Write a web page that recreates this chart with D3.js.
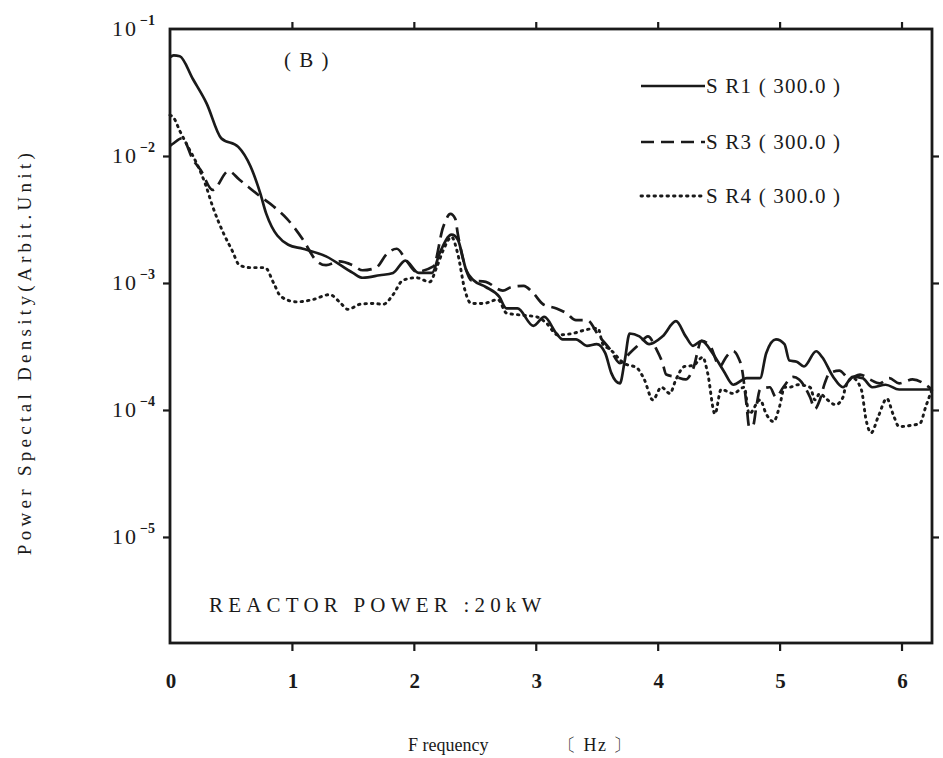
<!DOCTYPE html>
<html>
<head>
<meta charset="utf-8">
<script src="https://cdn.jsdelivr.net/npm/d3@7"></script>
<style>
  html, body { margin: 0; padding: 0; background: #fff; }
  svg { display: block; }
</style>
</head>
<body>
<svg id="chart" width="943" height="758"></svg>
<script>
// Power spectral density of three detectors, reactor power 20 kW
const sr1Freq = [0.00,0.03,0.08,0.19,0.30,0.42,0.56,0.66,0.74,0.79,0.97,1.09,1.28,1.50,1.58,1.72,1.83,1.93,2.04,2.15,2.21,2.31,2.36,2.43,2.49,2.59,2.70,2.76,2.85,2.98,3.07,3.17,3.22,3.33,3.42,3.50,3.57,3.62,3.69,3.73,3.77,3.85,3.93,4.04,4.15,4.23,4.29,4.36,4.45,4.54,4.62,4.73,4.84,4.89,4.97,5.04,5.08,5.14,5.20,5.30,5.35,5.44,5.52,5.60,5.68,5.76,5.87,5.98,6.09,6.25];
const sr1Psd  = [0.060,0.062,0.061,0.040,0.026,0.0138,0.0118,0.0083,0.0051,0.0035,0.0020,0.00186,0.00162,0.0012,0.0011,0.00115,0.0012,0.0015,0.0012,0.0012,0.0017,0.0024,0.0022,0.00126,0.00105,0.00093,0.00078,0.00063,0.00063,0.00046,0.00054,0.00040,0.00036,0.00036,0.00032,0.00033,0.00028,0.000195,0.000162,0.000245,0.00040,0.00038,0.00033,0.00038,0.00050,0.00038,0.00032,0.00035,0.00028,0.000204,0.000158,0.000178,0.000178,0.00028,0.00036,0.00033,0.000245,0.00024,0.00022,0.00029,0.00026,0.000182,0.000151,0.000182,0.000178,0.000151,0.000158,0.000145,0.000145,0.000145];

const sr3Freq = [0.00,0.03,0.10,0.19,0.25,0.35,0.48,0.57,0.74,0.85,0.96,1.09,1.20,1.28,1.39,1.50,1.58,1.69,1.78,1.86,1.94,2.02,2.16,2.24,2.30,2.34,2.36,2.42,2.47,2.59,2.73,2.80,2.90,2.98,3.06,3.17,3.25,3.33,3.42,3.52,3.61,3.69,3.77,3.85,3.92,3.99,4.04,4.07,4.15,4.23,4.29,4.36,4.43,4.51,4.56,4.62,4.66,4.69,4.73,4.75,4.78,4.81,4.84,4.92,4.97,5.03,5.11,5.16,5.25,5.29,5.33,5.37,5.41,5.49,5.57,5.66,5.74,5.82,5.90,5.98,6.09,6.25];
const sr3Psd  = [0.012,0.0126,0.0138,0.0093,0.0078,0.0054,0.0076,0.0065,0.0048,0.0040,0.0032,0.0022,0.0015,0.00138,0.00148,0.00138,0.00126,0.00132,0.0017,0.00186,0.0015,0.00123,0.00135,0.00275,0.0035,0.0032,0.00245,0.00135,0.00105,0.00102,0.00087,0.00093,0.00095,0.00083,0.00068,0.00063,0.00058,0.00051,0.00051,0.00038,0.00030,0.000234,0.00028,0.00033,0.00038,0.00030,0.000234,0.00019,0.000182,0.000174,0.00021,0.00035,0.00032,0.00022,0.00026,0.00029,0.00026,0.000214,0.000107,0.000074,0.000074,0.000107,0.000145,0.000151,0.000126,0.000151,0.000182,0.000174,0.000126,0.000102,0.00012,0.000162,0.000195,0.000204,0.000178,0.00019,0.000174,0.000162,0.000178,0.000162,0.000174,0.000145];

const sr4Freq = [0.00,0.03,0.08,0.15,0.22,0.29,0.35,0.44,0.51,0.57,0.66,0.78,0.85,0.91,1.04,1.17,1.31,1.39,1.46,1.56,1.67,1.75,1.83,1.91,2.02,2.13,2.19,2.24,2.31,2.36,2.42,2.47,2.57,2.69,2.76,2.87,3.01,3.09,3.18,3.30,3.42,3.51,3.55,3.61,3.72,3.83,3.89,3.96,4.03,4.10,4.15,4.22,4.29,4.37,4.41,4.47,4.52,4.62,4.71,4.75,4.84,4.89,4.95,5.00,5.04,5.08,5.15,5.25,5.29,5.33,5.38,5.46,5.52,5.54,5.60,5.67,5.71,5.75,5.81,5.88,5.93,5.98,6.09,6.15,6.20,6.25];
const sr4Psd  = [0.021,0.020,0.0158,0.0117,0.0087,0.0060,0.0040,0.00245,0.0018,0.00138,0.00132,0.00132,0.0010,0.00078,0.00071,0.00074,0.00081,0.00071,0.00062,0.00068,0.00069,0.00068,0.00081,0.00105,0.0011,0.00102,0.00135,0.0018,0.0023,0.0017,0.00087,0.00069,0.00069,0.00074,0.00058,0.00056,0.00054,0.00048,0.00039,0.00040,0.00043,0.00044,0.00033,0.00030,0.000234,0.000214,0.000174,0.00012,0.000151,0.000135,0.000174,0.00022,0.000224,0.00026,0.000195,0.000093,0.000145,0.000135,0.000151,0.000093,0.00012,0.000093,0.000081,0.000107,0.000151,0.000151,0.000158,0.000151,0.00012,0.000135,0.000123,0.00011,0.000126,0.000151,0.000178,0.000145,0.000083,0.000066,0.000089,0.000123,0.000093,0.000074,0.000076,0.000078,0.000107,0.000145];

const seriesNames = ["S R1 ( 300.0 )", "S R3 ( 300.0 )", "S R4 ( 300.0 )"];
const xTicks = [0, 1, 2, 3, 4, 5, 6];
const yTickExps = [-1, -2, -3, -4, -5];

const svg = d3.select("#chart");
const plotLeft = 170, plotRight = 932, plotTop = 29, plotBottom = 643;

const x = d3.scaleLinear().domain([0, 6.25]).range([plotLeft, plotRight]);
const y = d3.scaleLog().domain([Math.pow(10, -5.835), 0.1]).range([plotBottom, plotTop]);

const serif = "'Liberation Serif', 'DejaVu Serif', serif";
const ink = "#1a1a1a";

// axes: ticks drawn outward on all four sides
const axisStyle = g => {
  g.select(".domain").remove();
  g.selectAll(".tick line").attr("stroke", ink).attr("stroke-width", 2.2);
  g.selectAll(".tick text").remove();
};
const yTickVals = yTickExps.map(e => Math.pow(10, e));

svg.append("g").attr("transform", `translate(0,${plotBottom})`)
  .call(d3.axisBottom(x).tickValues(xTicks.filter(v => v > 0)).tickSize(8)).call(axisStyle);
svg.append("g").attr("transform", `translate(0,${plotTop})`)
  .call(d3.axisTop(x).tickValues(xTicks.filter(v => v > 0)).tickSize(7)).call(axisStyle);
svg.append("g").attr("transform", `translate(${plotLeft},0)`)
  .call(d3.axisLeft(y).tickValues(yTickVals.slice(1)).tickSize(7)).call(axisStyle);
svg.append("g").attr("transform", `translate(${plotRight},0)`)
  .call(d3.axisRight(y).tickValues(yTickVals.slice(1)).tickSize(7)).call(axisStyle);

// frame
svg.append("rect")
  .attr("x", plotLeft).attr("y", plotTop)
  .attr("width", plotRight - plotLeft).attr("height", plotBottom - plotTop)
  .attr("fill", "none").attr("stroke", ink).attr("stroke-width", 2.8);

// x tick labels
svg.append("g").selectAll("text").data(xTicks).join("text")
  .attr("x", d => x(d) + 1).attr("y", 688)
  .attr("text-anchor", "middle")
  .attr("font-family", serif).attr("font-size", 21).attr("font-weight", "bold")
  .attr("fill", ink)
  .text(d => d);

// y tick labels as powers of ten
const yl = svg.append("g").selectAll("text").data(yTickExps).join("text")
  .attr("x", 112).attr("y", d => y(Math.pow(10, d)) + 7)
  .attr("font-family", serif).attr("font-size", 22).attr("fill", ink);
yl.append("tspan").attr("letter-spacing", 2).text("10");
yl.append("tspan").attr("dx", 2).attr("dy", -11).attr("font-size", 14).attr("font-weight", "bold")
  .text(d => "\u2212" + (-d));

// axis titles
svg.append("text")
  .attr("transform", "translate(31,352) rotate(-90)")
  .attr("text-anchor", "middle")
  .attr("font-family", serif).attr("font-size", 19).attr("letter-spacing", 4.3)
  .attr("fill", ink)
  .text("Power Spectal Density(Arbit.Unit)");

svg.append("text")
  .attr("x", 408).attr("y", 751)
  .attr("font-family", serif).attr("font-size", 18).attr("fill", ink)
  .text("F requency");
svg.append("text")
  .attr("x", 558).attr("y", 751)
  .attr("font-family", serif).attr("font-size", 18).attr("letter-spacing", 1.5).attr("fill", ink)
  .text("〔 Hz 〕");

// annotations
svg.append("text")
  .attr("x", 284).attr("y", 67)
  .attr("font-family", serif).attr("font-size", 21).attr("letter-spacing", 1.5).attr("fill", ink)
  .text("( B )");
svg.append("text")
  .attr("x", 209).attr("y", 612)
  .attr("font-family", serif).attr("font-size", 21).attr("letter-spacing", 5.2)
  .attr("fill", ink)
  .text("REACTOR POWER :20kW");

// spectra
const styles = [
  { dash: null, width: 2.7, cap: "butt" },
  { dash: "14,7", width: 2.7, cap: "butt" },
  { dash: "1.5,5", width: 2.9, cap: "round" }
];
const series = [
  sr1Freq.map((f, i) => [f, sr1Psd[i]]),
  sr3Freq.map((f, i) => [f, sr3Psd[i]]),
  sr4Freq.map((f, i) => [f, sr4Psd[i]])
];
const line = d3.line().x(d => x(d[0])).y(d => y(d[1])).curve(d3.curveMonotoneX);

const plot = svg.append("g");
series.forEach((s, i) => {
  plot.append("path")
    .datum(s)
    .attr("d", line)
    .attr("fill", "none")
    .attr("stroke", ink)
    .attr("stroke-width", styles[i].width)
    .attr("stroke-linecap", styles[i].cap)
    .attr("stroke-linejoin", "round")
    .attr("stroke-dasharray", styles[i].dash);
});

// legend
const legendY = [86, 142, 196];
const lg = svg.append("g");
seriesNames.forEach((name, i) => {
  lg.append("line")
    .attr("x1", 641).attr("x2", 705)
    .attr("y1", legendY[i]).attr("y2", legendY[i])
    .attr("stroke", ink).attr("stroke-width", styles[i].width)
    .attr("stroke-linecap", styles[i].cap)
    .attr("stroke-dasharray", i === 1 ? "13,7" : styles[i].dash);
  lg.append("text")
    .attr("x", 706).attr("y", legendY[i] + 7)
    .attr("font-family", serif).attr("font-size", 21).attr("letter-spacing", 1.2).attr("fill", ink)
    .text(name);
});
</script>
</body>
</html>
